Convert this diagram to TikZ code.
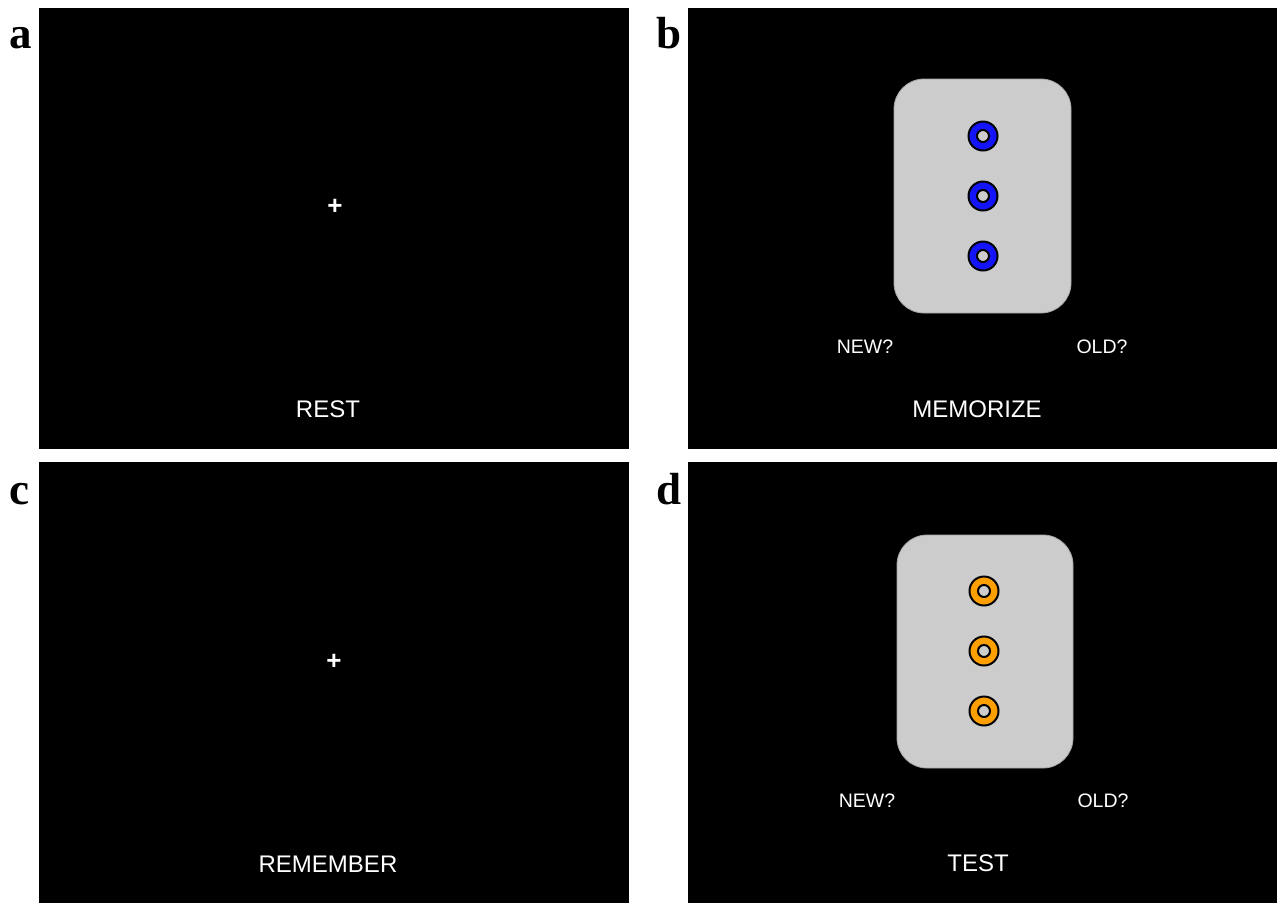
\documentclass[tikz,border=0pt]{standalone}
\usepackage{fontspec}
\setmainfont{Liberation Sans}
\newfontfamily\panelfont{Liberation Serif}
\definecolor{cardgray}{RGB}{204,204,204}
\definecolor{ringblue}{RGB}{20,20,250}
\definecolor{ringorange}{RGB}{255,160,0}
\tikzset{
  screen/.style={fill=black, draw=none},
  card/.style={fill=cardgray, draw=gray!70, line width=0.8pt, rounded corners=30pt},
  ring/.style={draw=black, line width=2pt, circle, minimum size=29pt, inner sep=0pt},
  hole/.style={draw=black, line width=2pt, circle, minimum size=12pt, inner sep=0pt, fill=cardgray},
  caption/.style={text=white, font=\fontsize{24}{28}\selectfont, inner sep=0pt},
  choice/.style={text=white, font=\fontsize{19.5}{23}\selectfont, inner sep=0pt},
  fixation/.style={text=white, font=\bfseries\fontsize{26}{30}\selectfont, inner sep=0pt},
  panellabel/.style={font=\panelfont\bfseries\fontsize{45}{50}\selectfont, inner sep=0pt, anchor=base}
}
\begin{document}
\begin{tikzpicture}[x=1pt,y=-1pt]
\useasboundingbox (0,0) rectangle (1282,903);
\fill[white] (0,0) rectangle (1282,903);

% four screens
\fill[screen] (39,8) rectangle (629,449);
\fill[screen] (688,8) rectangle (1277,449);
\fill[screen] (39,462) rectangle (629,903);
\fill[screen] (688,462) rectangle (1277,903);

% panel letters
\node[panellabel] (la) at (21,48) {a};
\node[panellabel] (lb) at (669,48) {b};
\node[panellabel] (lc) at (19,504) {c};
\node[panellabel] (ld) at (669,504) {d};

% (a) rest
\node[fixation] (fixa) at (335,207) {+};
\node[caption] (rest) at (328,409) {REST};

% (b) memorize
\draw[card] (894,79) rectangle (1071,313);
\foreach \y [count=\i] in {136,196,256} {
  \node[ring, fill=ringblue] (mb\i) at (983,\y) {};
  \node[hole] (hb\i) at (983,\y) {};
}
\node[choice] (newb) at (865,347) {NEW?};
\node[choice] (oldb) at (1102,347) {OLD?};
\node[caption] (memo) at (977,409) {MEMORIZE};

% (c) remember
\node[fixation] (fixc) at (334,662) {+};
\node[caption] (reme) at (328,864) {REMEMBER};

% (d) test
\draw[card] (897,535) rectangle (1073,768);
\foreach \y [count=\i] in {591,651,711} {
  \node[ring, fill=ringorange] (md\i) at (984,\y) {};
  \node[hole] (hd\i) at (984,\y) {};
}
\node[choice] (newd) at (867,801) {NEW?};
\node[choice] (oldd) at (1103,801) {OLD?};
\node[caption] (test) at (978,863) {TEST};
\end{tikzpicture}
\end{document}
